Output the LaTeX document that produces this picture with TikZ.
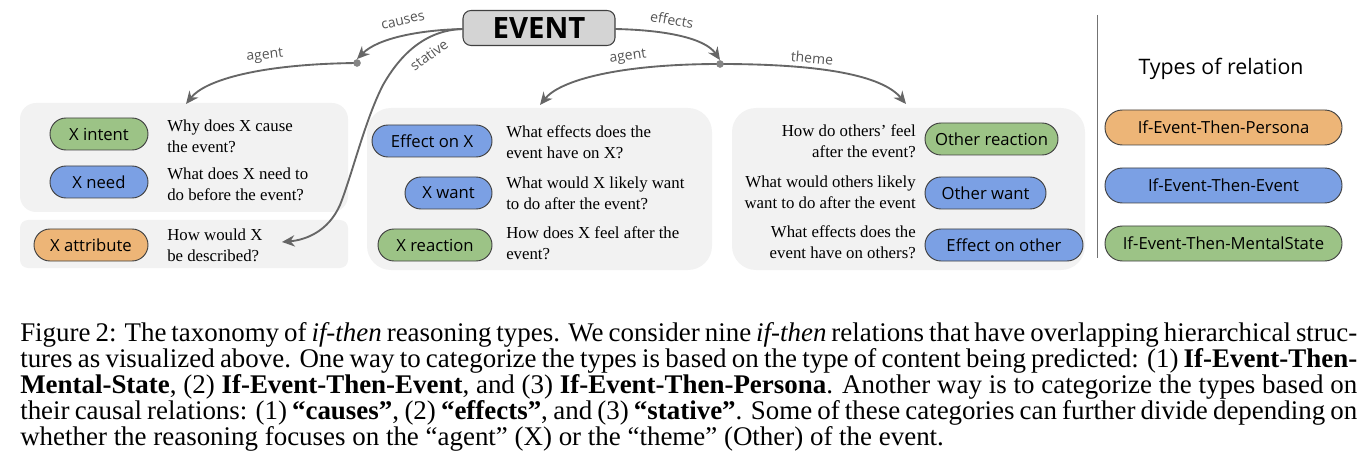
\documentclass[tikz,border=0pt]{standalone}
\usepackage{fontspec}
\setmainfont{Liberation Serif}
\newfontfamily\labfont{Open Sans}
\usetikzlibrary{arrows.meta}
\definecolor{pgreen}{HTML}{9CC386}
\definecolor{pblue}{HTML}{7BA0E4}
\definecolor{porange}{HTML}{EDB577}
\definecolor{panelgray}{HTML}{F2F2F2}
\definecolor{edgegray}{HTML}{666666}
\definecolor{labgray}{HTML}{555555}
\newcommand{\capline}[1]{\hbox to 1002.75pt{#1}}
\tikzset{
  pill/.style={draw=black!75, line width=0.7pt, rounded corners=12pt, minimum height=24pt, inner sep=0pt, font=\labfont\fontsize{12.5}{14}\selectfont},
  legpill/.style={pill, rounded corners=13pt, minimum height=26.25pt, minimum width=177.75pt},
  qtext/.style={font=\fontsize{12.6}{15.75}\selectfont, inner sep=0pt},
  elabel/.style={font=\labfont\fontsize{10.5}{12}\selectfont, text=labgray, inner sep=0pt},
  edge/.style={draw=edgegray, line width=1.4pt, -{Stealth[length=9.5pt,width=8.5pt]}},
  dotnode/.style={circle, fill=edgegray!80, inner sep=0pt, minimum size=5.5pt},
  panel/.style={fill=panelgray}
}
\begin{document}
\begin{tikzpicture}[x=0.75pt,y=-0.75pt]
\useasboundingbox (0,0) rectangle (1369,463);

% panels
\fill[panel, rounded corners=12pt] (20,103) rectangle (348,212);
\fill[panel, rounded corners=6pt] (20,220) rectangle (348,268);
\fill[panel, rounded corners=18pt] (367,108) rectangle (712,270);
\fill[panel, rounded corners=18pt] (732,108) rectangle (1085,270);

% event
\node[draw=black!75, fill=black!17, line width=0.8pt, rounded corners=6pt, minimum width=114pt, minimum height=26.25pt, inner sep=0pt, font=\labfont\bfseries\fontsize{22}{24}\selectfont] (event) at (539,28) {EVENT};

\node[dotnode] (d1) at (357,63) {};
\node[dotnode] (d2) at (720,64) {};

\coordinate (es) at (463,29);
\coordinate (ee) at (615,29);
\coordinate (tA) at (186,104);
\coordinate (tC) at (540,105);
\coordinate (tD) at (906,104);
\coordinate (tB) at (282,242);

% connectors
\draw[edge] (es) .. controls (420,30) and (378,38) .. (d1.north);
\draw[edge] (d1.center) .. controls (260,64) and (205,80) .. (tA);
\draw[edge] (es) .. controls (425,30) and (400,55) .. (383,85) .. controls (365,120) and (352,175) .. (340,205) .. controls (328,232) and (305,240) .. (tB);
\draw[edge] (ee) .. controls (665,30) and (705,38) .. (d2.north);
\draw[edge] (d2.center) .. controls (620,64) and (560,80) .. (tC);
\draw[edge] (d2.center) .. controls (820,64) and (882,75) .. (tD);
\node[dotnode] at (d1) {};
\node[dotnode] at (d2) {};

% edge labels
\node[elabel, rotate=13] (lcauses) at (403,21) {causes};
\node[elabel, rotate=6] (lagent1) at (265,56) {agent};
\node[elabel, rotate=36] (lstative) at (429,55) {stative};
\node[elabel, rotate=-10] (leffects) at (672,20) {effects};
\node[elabel, rotate=8] (lagent2) at (628,57) {agent};
\node[elabel, rotate=-5] (ltheme) at (812,58) {theme};

% pills
\node[pill, fill=pgreen, minimum width=73.5pt] (xintent) at (99,134) {X intent};
\node[pill, fill=pblue, minimum width=73.5pt] (xneed) at (99,182) {X need};
\node[pill, fill=porange, minimum width=85.5pt] (xattr) at (91,245) {X attribute};
\node[pill, fill=pblue, minimum width=90pt] (effx) at (432,141) {Effect on X};
\node[pill, fill=pblue, minimum width=65.25pt] (xwant) at (448.5,193) {X want};
\node[pill, fill=pgreen, minimum width=85.5pt] (xreact) at (435,245) {X reaction};
\node[pill, fill=pgreen, minimum width=99.75pt] (oreact) at (991.5,139) {Other reaction};
\node[pill, fill=pblue, minimum width=90.75pt] (owant) at (985.5,193) {Other want};
\node[pill, fill=pblue, minimum width=118.5pt] (effo) at (1004,245) {Effect on other};

% questions
\node[qtext, anchor=west, align=left] (q1) at (167,136) {Why does X cause\\the event?};
\node[qtext, anchor=west, align=left] (q2) at (167,184) {What does X need to\\do before the event?};
\node[qtext, anchor=west, align=left] (q3) at (167,245) {How would X\\be described?};
\node[qtext, anchor=west, align=left] (q4) at (506,142) {What effects does the\\event have on X?};
\node[qtext, anchor=west, align=left] (q5) at (506,193) {What would X likely want\\to do after the event?};
\node[qtext, anchor=west, align=left] (q6) at (506,243) {How does X feel after the\\event?};
\node[qtext, anchor=east, align=right] (q7) at (916,141) {How do others' feel\\after the event?};
\node[qtext, anchor=east, align=right] (q8) at (916,192) {What would others likely\\want to do after the event};
\node[qtext, anchor=east, align=right] (q9) at (916,242) {What effects does the\\event have on others?};

% legend
\draw[draw=black!55, line width=0.6pt] (1097,15) -- (1097,258);
\node[font=\labfont\fontsize{16}{18}\selectfont, inner sep=0pt] (types) at (1221,69) {Types of relation};
\node[legpill, fill=porange] (lp) at (1223.5,127.5) {If-Event-Then-Persona};
\node[legpill, fill=pblue] (le) at (1223.5,185.5) {If-Event-Then-Event};
\node[legpill, fill=pgreen] (lm) at (1223.5,243.5) {If-Event-Then-MentalState};

% caption
\node[anchor=north west, inner sep=0pt, align=left, font=\fontsize{20.2}{17.6}\selectfont] (caption) at (20,322) {%
\capline{Figure 2: The taxonomy of \emph{if-then} reasoning types. We consider nine \emph{if-then} relations that have overlapping hierarchical struc-}\\
\capline{tures as visualized above. One way to categorize the types is based on the type of content being predicted: (1) \textbf{If-Event-Then-}}\\
\capline{\textbf{Mental-State}, (2) \textbf{If-Event-Then-Event}, and (3) \textbf{If-Event-Then-Persona}. Another way is to categorize the types based on}\\
\capline{their causal relations: (1) \textbf{``causes''}, (2) \textbf{``effects''}, and (3) \textbf{``stative''}. Some of these categories can further divide depending on}\\
whether the reasoning focuses on the ``agent'' (X) or the ``theme'' (Other) of the event.};
\end{tikzpicture}
\end{document}
